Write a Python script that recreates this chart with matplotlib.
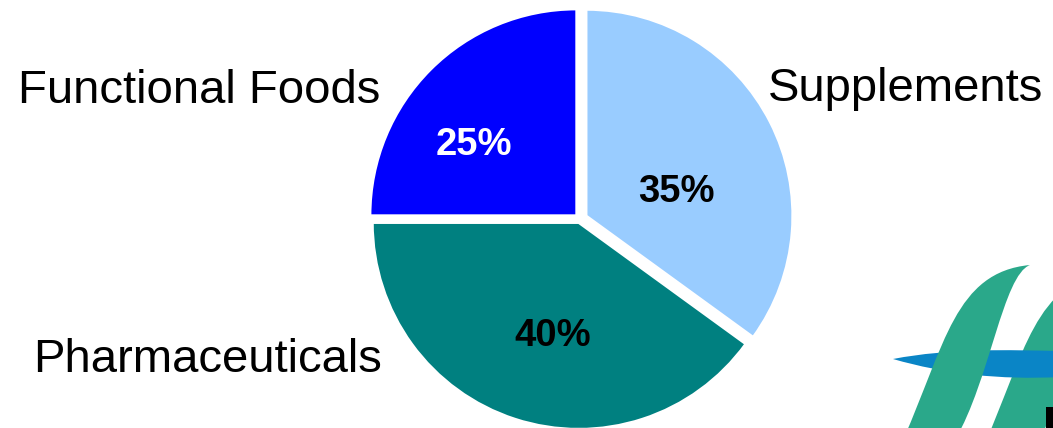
import numpy as np
import matplotlib
matplotlib.use("Agg")
import matplotlib.pyplot as plt
from matplotlib.path import Path
from matplotlib.patches import PathPatch

plt.rcParams['font.family'] = ['Liberation Sans', 'DejaVu Sans']

# ---------------------------------------------------------------
# datos
# ---------------------------------------------------------------
categorias = ['Supplements', 'Pharmaceuticals', 'Functional Foods']
valores = [35, 40, 25]
colores = ['#99CCFF', '#008080', '#0000FF']
colores_pct = ['black', 'black', 'white']
separacion = [0.035, 0.02, 0.025]

# posiciones (px) de las etiquetas de texto
pos_categoria = [(768, 101), (33, 372), (18, 103)]
pos_pct = [(676, 192), (553, 336), (474, 145)]

W, H = 1053, 428
cx, cy, r = 580, 219, 206

fig = plt.figure(figsize=(W / 100, H / 100), dpi=100)

# eje del pastel: 1 unidad = r px
ax = fig.add_axes([0, 0, 1, 1])
ax.pie(valores, colors=colores, startangle=90, counterclock=False,
       explode=separacion, wedgeprops=dict(edgecolor='white', linewidth=1.5))
ax.set_xlim(-cx / r, (W - cx) / r)
ax.set_ylim(-(H - cy) / r, cy / r)
ax.set_aspect('auto')
ax.axis('off')

# eje superpuesto en pixeles para textos y logo
ax2 = fig.add_axes([0, 0, 1, 1], facecolor='none')
ax2.set_xlim(0, W)
ax2.set_ylim(H, 0)
ax2.axis('off')

for nombre, (x, y) in zip(categorias, pos_categoria):
    ax2.text(x, y, nombre, fontsize=34, ha='left', va='baseline', color='black')

for v, (x, y), c in zip(valores, pos_pct, colores_pct):
    ax2.text(x, y, f'{v}%', fontsize=27.5, fontweight='bold', ha='center',
             va='center', color=c)

# ---------------------------------------------------------------
# logo (esquina inferior derecha, recortado)
# ---------------------------------------------------------------
def hebra(dx=0, dy=0):
    pts = [(903, 440), (945, 345), (955, 272), (1030, 265),
           (1003, 275), (990, 380), (955, 440), (903, 440)]
    pts = [(x + dx, y + dy) for x, y in pts]
    codes = [Path.MOVETO, Path.CURVE4, Path.CURVE4, Path.CURVE4,
             Path.CURVE4, Path.CURVE4, Path.CURVE4, Path.CLOSEPOLY]
    return Path(pts, codes)

verde = '#2AA88A'
azul = '#0A85C6'

lente_pts = [(893, 359), (950, 348), (1010, 350), (1060, 351),
             (1060, 377), (1000, 380), (945, 374), (893, 359)]
lente_codes = [Path.MOVETO, Path.CURVE4, Path.CURVE4, Path.CURVE4,
               Path.LINETO, Path.CURVE4, Path.CURVE4, Path.CURVE4]

ax2.add_patch(PathPatch(hebra(80, 8), facecolor=verde, edgecolor='none', zorder=2))
ax2.add_patch(PathPatch(Path(lente_pts, lente_codes), facecolor=azul,
                        edgecolor='none', zorder=3))
ax2.add_patch(PathPatch(hebra(), facecolor=verde, edgecolor='none', zorder=4))
ax2.add_patch(plt.Rectangle((1046, 407), 10, 25, facecolor='black',
                            edgecolor='none', zorder=5))

fig.savefig('out.png', dpi=100)
plt.close(fig)
